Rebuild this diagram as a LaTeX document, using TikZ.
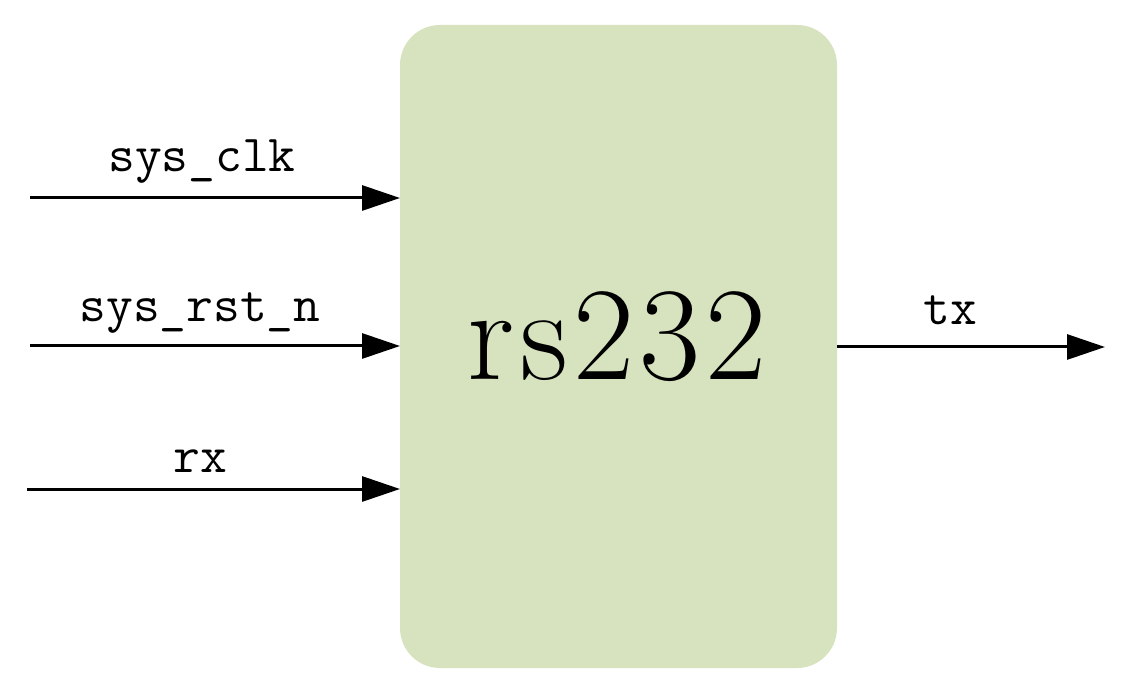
\documentclass[tikz,border=0pt]{standalone}
\usetikzlibrary{arrows.meta}
\definecolor{boxgreen}{HTML}{D7E3BF}
\begin{document}
\begin{tikzpicture}[x=1pt,y=-1pt,
  sig/.style={line width=3pt,-{Triangle[length=38pt,width=25pt]}},
  lbl/.style={anchor=base,inner sep=0pt,font=\fontsize{52}{56}\selectfont\ttfamily},
  blk/.style={fill=boxgreen,draw=none,rounded corners=40pt,minimum width=437pt,minimum height=643pt,inner sep=0pt}]
\useasboundingbox (0,0) rectangle (1141,692);
\node[blk] (m) at (618.5,346.5) {};
\node[anchor=base,inner sep=0pt] (mt) at (617,380) {\fontsize{133}{135}\selectfont r\kern6pt s\kern5pt 2\kern5pt 3\kern5pt 2};
\coordinate (a1) at (30,198);
\coordinate (b1) at (400,198);
\coordinate (a2) at (30,346);
\coordinate (b2) at (400,346);
\coordinate (a3) at (27,489);
\coordinate (b3) at (400,489);
\coordinate (a4) at (837,347);
\coordinate (b4) at (1105,347);
\draw[sig] (a1) -- (b1);
\draw[sig] (a2) -- (b2);
\draw[sig] (a3) -- (b3);
\draw[sig] (a4) -- (b4);
\node[lbl] (l1) at (202,172) {sys\_clk};
\node[lbl] (l2) at (200,322) {sys\_rst\_n};
\node[lbl] (l3) at (200,472) {rx};
\node[lbl] (l4) at (950,325) {tx};
\end{tikzpicture}
\end{document}
